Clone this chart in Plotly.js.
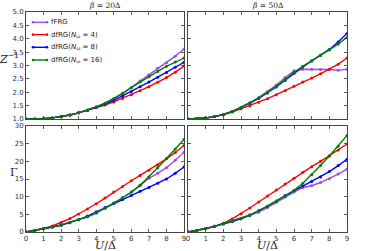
<!DOCTYPE html>
<html><head><meta charset="utf-8">
<script src="https://cdn.plot.ly/plotly-3.0.1.min.js"></script>
<style>html,body{margin:0;padding:0;background:#fff;}#c{width:365px;height:251px;}</style>
</head><body><div id="c"></div>
<script>
const U = [0,0.5,1,1.5,2,2.5,3,3.5,4,4.5,5,5.5,6,6.5,7,7.5,8,8.5,9];
const seriesNames = ['fFRG','dfRG(<i>N</i><sub>ω</sub> = 4)','dfRG(<i>N</i><sub>ω</sub> = 8)','dfRG(<i>N</i><sub>ω</sub> = 16)'];
const seriesColors = ['#a24be6','#ff0000','#0000ff','#008000'];
const xTicks = [0,1,2,3,4,5,6,7,8,9];
const zTicks = [1.0,1.5,2.0,2.5,3.0,3.5,4.0,4.5,5.0];
const gTicks = [0,5,10,15,20,25,30];
const panelTitles = ['<i>β</i> = 20Δ','<i>β</i> = 50Δ'];

// Z^-1, beta = 20
const z20_fFRG = [1.00,1.00,1.01,1.04,1.09,1.15,1.23,1.33,1.45,1.59,1.75,1.95,2.18,2.42,2.65,2.90,3.10,3.35,3.62];
const z20_N4   = [1.00,1.00,1.01,1.04,1.09,1.15,1.23,1.32,1.42,1.52,1.64,1.77,1.91,2.06,2.21,2.37,2.55,2.75,2.98];
const z20_N8   = [1.00,1.00,1.01,1.04,1.09,1.15,1.23,1.33,1.44,1.56,1.70,1.86,2.03,2.21,2.38,2.56,2.74,2.93,3.12];
const z20_N16  = [1.00,1.00,1.01,1.04,1.09,1.15,1.23,1.33,1.45,1.59,1.76,1.96,2.17,2.38,2.58,2.78,2.97,3.13,3.28];
// Z^-1, beta = 50
const z50_fFRG = [1.00,1.01,1.04,1.09,1.17,1.28,1.43,1.61,1.80,2.02,2.27,2.55,2.80,2.86,2.86,2.85,2.85,2.82,2.86];
const z50_N4   = [1.00,1.01,1.04,1.09,1.16,1.26,1.38,1.50,1.63,1.76,1.91,2.06,2.22,2.38,2.53,2.69,2.86,3.05,3.28];
const z50_N8   = [1.00,1.01,1.04,1.09,1.17,1.28,1.42,1.59,1.77,1.97,2.20,2.45,2.71,2.95,3.17,3.38,3.60,3.88,4.20];
const z50_N16  = [1.00,1.01,1.04,1.09,1.17,1.28,1.43,1.60,1.78,1.99,2.22,2.48,2.75,2.97,3.18,3.38,3.58,3.80,4.05];
// Gamma, beta = 20
const g20_fFRG = [0,0.4,1.0,1.4,2.0,2.7,3.5,4.3,5.4,6.7,8.2,9.7,11.3,13.2,15.2,16.6,18.2,20.3,22.6];
const g20_N4   = [0,0.4,1.0,1.7,2.7,3.8,5.1,6.5,8.0,9.6,11.3,12.9,14.5,16.0,17.5,19.0,20.7,22.5,24.5];
const g20_N8   = [0,0.4,1.0,1.4,1.9,2.6,3.5,4.5,5.7,6.9,8.0,9.2,10.3,11.5,12.6,13.8,15.0,16.6,18.4];
const g20_N16  = [0,0.4,1.0,1.4,2.0,2.7,3.5,4.3,5.4,6.7,8.2,9.7,11.3,13.2,15.6,18.2,20.8,23.5,26.2];
// Gamma, beta = 50
const g50_fFRG = [0,0.4,1.0,1.6,2.2,2.9,3.7,4.6,5.6,6.9,8.4,9.9,11.3,12.6,13.1,14.0,15.1,16.4,17.8];
const g50_N4   = [0,0.4,0.9,1.6,2.5,3.7,5.2,6.8,8.5,10.2,11.9,13.6,15.2,16.9,18.5,20.0,21.6,23.2,24.9];
const g50_N8   = [0,0.4,1.0,1.6,2.3,3.0,3.8,4.8,6.0,7.3,8.8,10.3,11.7,13.0,14.3,15.6,17.1,18.8,20.6];
const g50_N16  = [0,0.4,1.0,1.6,2.4,3.0,3.8,4.8,6.0,7.3,8.7,10.2,11.8,13.8,16.2,18.8,21.5,24.3,27.3];

const panels = [
  {xa:'x', ya:'y',  data:[z20_fFRG,z20_N4,z20_N8,z20_N16]},
  {xa:'x2',ya:'y2', data:[z50_fFRG,z50_N4,z50_N8,z50_N16]},
  {xa:'x3',ya:'y3', data:[g20_fFRG,g20_N4,g20_N8,g20_N16]},
  {xa:'x4',ya:'y4', data:[g50_fFRG,g50_N4,g50_N8,g50_N16]}
];
const traces = [];
panels.forEach(p => {
  p.data.forEach((vals,i) => {
    traces.push({x:U, y:vals, xaxis:p.xa, yaxis:p.ya, type:'scatter', mode:'lines+markers',
      name:seriesNames[i], showlegend:false,
      line:{color:seriesColors[i], width:1.4}, marker:{color:seriesColors[i], size:3}});
  });
});

const W=365, H=251;
const px = v => v/W, py = v => 1 - v/H;
const axBase = {ticks:'inside', ticklen:3, tickwidth:0.8, tickcolor:'#333', mirror:'allticks',
  showline:true, linecolor:'#444', linewidth:1, showgrid:false, zeroline:false,
  tickfont:{size:7, color:'#333', family:'DejaVu Sans'}};
const xD1=[px(26),px(184)], xD2=[px(188),px(347)];
const yD1=[py(119),py(12)], yD2=[py(232),py(126)];
function xa(dom, anchor, labels){return Object.assign({}, axBase, {domain:dom, anchor:anchor, range:[0,9], tickvals:xTicks, showticklabels:labels});}
function ya(dom, anchor, ticks, rng, labels, fmt){return Object.assign({}, axBase, {domain:dom, anchor:anchor, range:rng, tickvals:ticks, showticklabels:labels, tickformat:fmt});}

function ann(text, x, y, size, family){
  return {text:text, xref:'paper', yref:'paper', x:px(x), y:py(y), xanchor:'center', yanchor:'middle',
    showarrow:false, font:{size:size, family:family, color:'#222'}};
}
const annotations = [
  ann(panelTitles[0], 105, 6, 7.5, 'DejaVu Serif'),
  ann(panelTitles[1], 267.5, 6, 7.5, 'DejaVu Serif'),
  ann('<i>U</i>/Δ', 105, 245, 11, 'DejaVu Serif'),
  ann('<i>U</i>/Δ', 267.5, 245, 11, 'DejaVu Serif'),
  ann('<i>Z</i><sup>−1</sup>', 9, 58, 11, 'DejaVu Serif'),
  ann('Γ', 14, 172, 11, 'DejaVu Serif')
];
// legend (matplotlib-style, two markers per handle)
const legY = [22.3, 34.6, 47.3, 60];
const shapes = [];
seriesNames.forEach((nm,i) => {
  const yy = py(legY[i]);
  shapes.push({type:'line', xref:'paper', yref:'paper', x0:px(33), x1:px(47), y0:yy, y1:yy, line:{color:seriesColors[i], width:1.4}});
  [33,47].forEach(cx => shapes.push({type:'circle', xref:'paper', yref:'paper', x0:px(cx-1.3), x1:px(cx+1.3), y0:py(legY[i]+1.3), y1:py(legY[i]-1.3), fillcolor:seriesColors[i], line:{width:0}}));
  annotations.push({text:nm, xref:'paper', yref:'paper', x:px(49), y:yy, xanchor:'left', yanchor:'middle', showarrow:false, font:{size:7, family:'DejaVu Sans', color:'#222'}});
});

const layout = {
  width:W, height:H, margin:{l:0,r:0,t:0,b:0}, paper_bgcolor:'#fff', plot_bgcolor:'#fff',
  font:{family:'DejaVu Sans', color:'#333'}, showlegend:false,
  xaxis: xa(xD1,'y',false), yaxis: ya(yD1,'x',zTicks,[1,5],true,'.1f'),
  xaxis2:xa(xD2,'y2',false), yaxis2:ya(yD1,'x2',zTicks,[1,5],false,'.1f'),
  xaxis3:xa(xD1,'y3',true), yaxis3:ya(yD2,'x3',gTicks,[0,30],true,'d'),
  xaxis4:xa(xD2,'y4',true), yaxis4:ya(yD2,'x4',gTicks,[0,30],false,'d'),
  annotations:annotations, shapes:shapes
};
Plotly.newPlot('c', traces, layout, {displayModeBar:false, staticPlot:true});
</script></body></html>
